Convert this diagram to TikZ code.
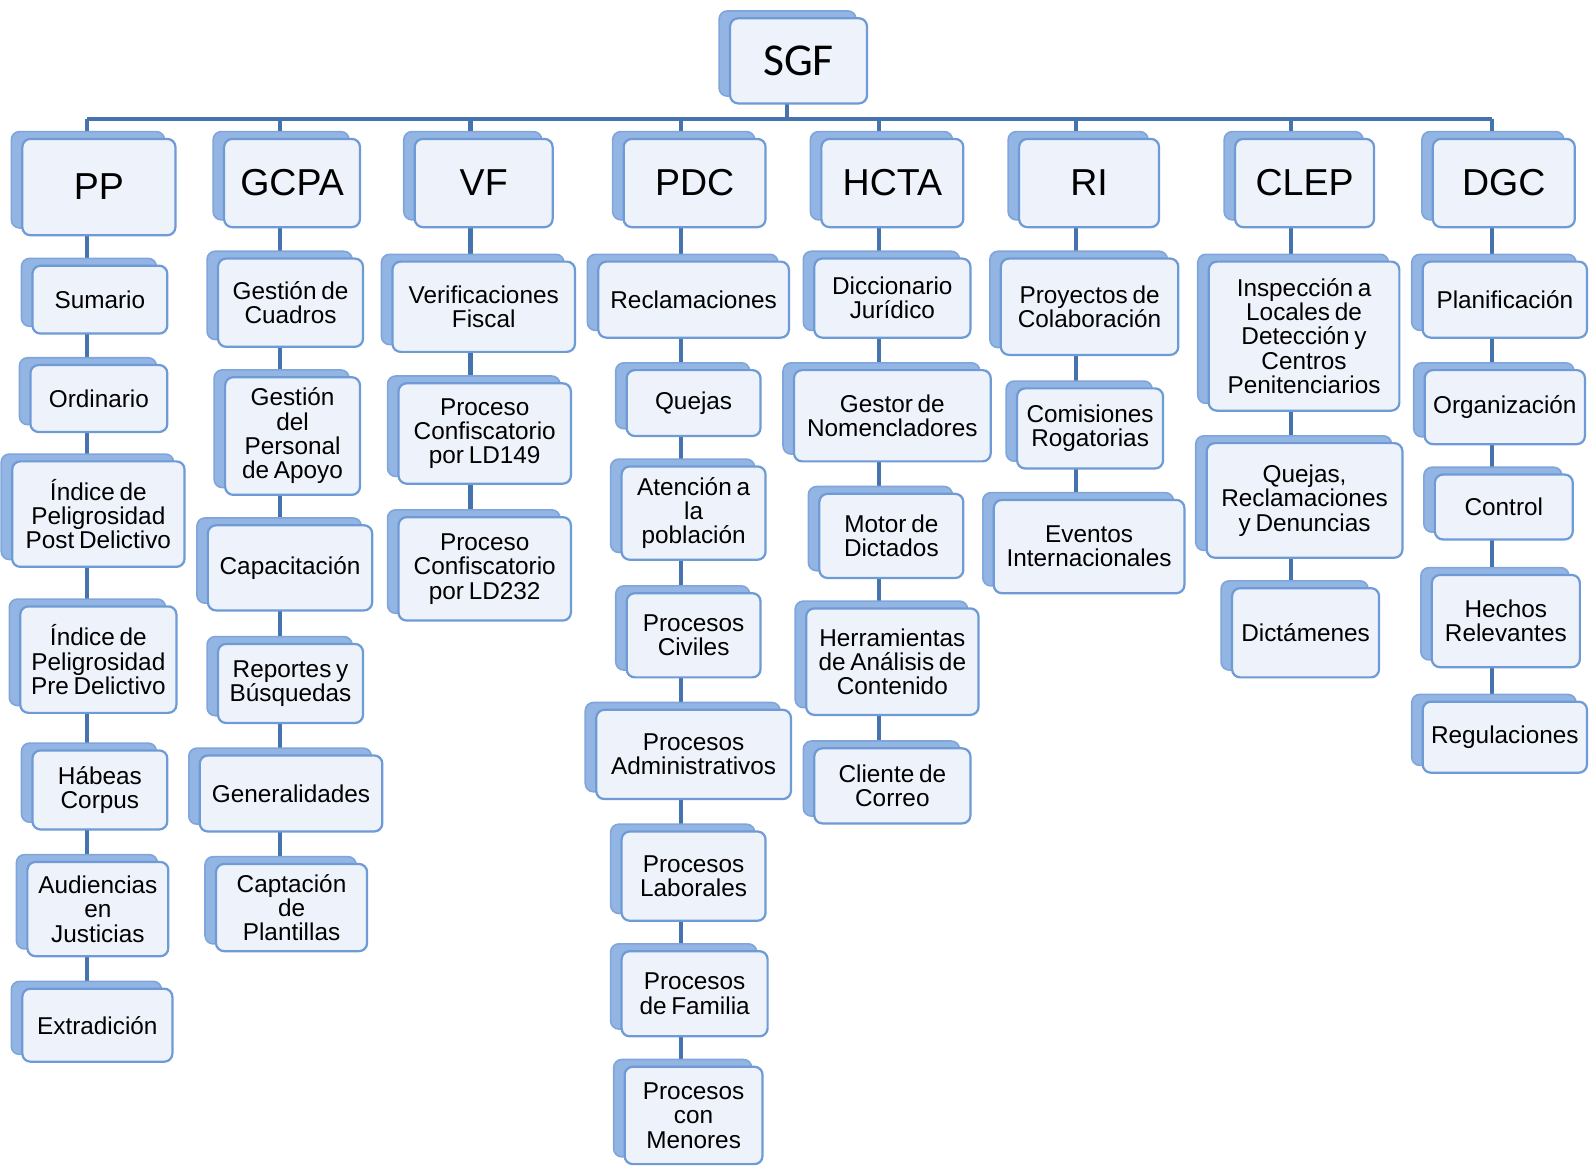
\documentclass[tikz,border=0pt]{standalone}
\usepackage{fontspec}
\setmainfont{Liberation Sans}[WordSpace=0.7]
\newfontfamily\titlefont{Carlito}
\usetikzlibrary{shadows}
\definecolor{boxfill}{HTML}{EEF2FA}
\definecolor{boxedge}{HTML}{6E9BD6}
\definecolor{shadefill}{HTML}{93B5E3}
\definecolor{shadeedge}{HTML}{7FA5DA}
\definecolor{linkblue}{HTML}{4473AE}
\pgfdeclarelayer{background}
\pgfsetlayers{background,main}
\tikzset{
  orgbox/.style={draw=boxedge, line width=1.1pt, fill=boxfill, rounded corners=4pt,
    inner sep=0pt, align=center,
    font=\fontsize{12}{12}\selectfont,
    copy shadow={shadow xshift=-5.4pt, shadow yshift=3.6pt, fill=shadefill, draw=shadeedge, line width=0.8pt}},
  headbox/.style={orgbox, font=\fontsize{18.5}{19}\selectfont},
  topbox/.style={orgbox, font=\titlefont\fontsize{22.5}{23}\selectfont},
  conn/.style={draw=linkblue, line width=2pt},
}
% \obox[style]{name}{x1}{y1}{x2}{y2}{text}: a box spanning the given corners
\newcommand\obox[7][orgbox]{%
  \pgfmathsetmacro\bxc{(#3+#5)/2}%
  \pgfmathsetmacro\byc{(#4+#6)/2}%
  \pgfmathsetmacro\bxw{(#5-#3)*0.5}%
  \pgfmathsetmacro\byh{(#6-#4)*0.5}%
  \node[#1, minimum width=\bxw pt, minimum height=\byh pt] (#2) at (\bxc,\byc) {#7};}
\begin{document}
\begin{tikzpicture}[x=0.5pt,y=-0.5pt]
\useasboundingbox (0,0) rectangle (1568,1149);

% root
\obox[topbox]{sgf}{720}{18}{855}{102}{SGF}

% second level
\obox[headbox]{pp}{22}{137}{173}{232}{PP}
\obox[headbox]{gcpa}{221}{137}{355}{224}{GCPA}
\obox[headbox]{vf}{409}{137}{545}{224}{VF}
\obox[headbox]{pdc}{615}{137}{755}{224}{PDC}
\obox[headbox]{hcta}{810}{137}{950}{224}{HCTA}
\obox[headbox]{ri}{1005}{137}{1143}{224}{RI}
\obox[headbox]{clep}{1218}{137}{1355}{224}{CLEP}
\obox[headbox]{dgc}{1413}{137}{1553}{224}{DGC}

% PP
\obox{pp1}{32}{262}{165}{329}{Sumario}
\obox{pp2}{30}{360}{165}{426}{Ordinario}
\obox{pp3}{12}{455}{182}{559}{Índice de\\Peligrosidad\\Post Delictivo}
\obox{pp4}{20}{598}{174}{703}{Índice de\\Peligrosidad\\Pre Delictivo}
\obox{pp5}{32}{740}{165}{818}{Hábeas\\Corpus}
\obox{pp6}{27}{850}{166}{943}{Audiencias\\en\\Justicias}
\obox{pp7}{22}{975}{170}{1047}{Extradición}

% GCPA
\obox{gc1}{215}{255}{358}{342}{Gestión de\\Cuadros}
\obox{gc2}{222}{372}{355}{488}{Gestión\\del\\Personal\\de Apoyo}
\obox{gc3}{205}{518}{367}{602}{Capacitación}
\obox{gc4}{215}{635}{358}{713}{Reportes y\\Búsquedas}
\obox{gc5}{197}{745}{377}{820}{Generalidades}
\obox{gc6}{213}{852}{362}{938}{Captación\\de\\Plantillas}

% VF
\obox{vf1}{387}{258}{567}{347}{Verificaciones\\Fiscal}
\obox{vf2}{393}{378}{563}{477}{Proceso\\Confiscatorio\\por LD149}
\obox{vf3}{393}{510}{563}{612}{Proceso\\Confiscatorio\\por LD232}

% PDC
\obox{pd1}{590}{258}{778}{333}{Reclamaciones}
\obox{pd2}{618}{365}{750}{430}{Quejas}
\obox{pd3}{613}{460}{755}{552}{Atención a\\la\\población}
\obox{pd4}{618}{585}{750}{668}{Procesos\\Civiles}
\obox{pd5}{588}{700}{780}{788}{Procesos\\Administrativos}
\obox{pd6}{613}{820}{755}{908}{Procesos\\Laborales}
\obox{pd7}{613}{938}{757}{1022}{Procesos\\de Familia}
\obox{pd8}{616}{1052}{752}{1148}{Procesos\\con\\Menores}

% HCTA
\obox{hc1}{803}{255}{957}{333}{Diccionario\\Jurídico}
\obox{hc2}{783}{365}{977}{455}{Gestor de\\Nomencladores}
\obox{hc3}{808}{487}{950}{570}{Motor de\\Dictados}
\obox{hc4}{795}{600}{965}{705}{Herramientas\\de Análisis de\\Contenido}
\obox{hc5}{803}{738}{957}{812}{Cliente de\\Correo}

% RI
\obox{ri1}{987}{255}{1162}{350}{Proyectos de\\Colaboración}
\obox{ri2}{1003}{383}{1147}{462}{Comisiones\\Rogatorias}
\obox{ri3}{980}{493}{1168}{585}{Eventos\\Internacionales}

% CLEP
\obox{cl1}{1192}{258}{1380}{405}{Inspección a\\Locales de\\Detección y\\Centros\\Penitenciarios}
\obox{cl2}{1190}{437}{1383}{550}{Quejas,\\Reclamaciones\\y Denuncias}
\obox{cl3}{1215}{580}{1360}{668}{Dictámenes}

% DGC
\obox{dg1}{1403}{258}{1565}{333}{Planificación}
\obox{dg2}{1405}{365}{1563}{438}{Organización}
\obox{dg3}{1415}{468}{1551}{532}{Control}
\obox{dg4}{1412}{567}{1558}{658}{Hechos\\Relevantes}
\obox{dg5}{1403}{692}{1565}{762}{Regulaciones}

% bus and column drop points
\coordinate (cSGF) at (776,117);
\coordinate (cPP)   at (86,117);
\coordinate (cGCPA) at (276,117);
\coordinate (cVF)   at (464,117);
\coordinate (cPDC)  at (672,117);
\coordinate (cHCTA) at (867,117);
\coordinate (cRI)   at (1061,117);
\coordinate (cCLEP) at (1273,117);
\coordinate (cDGC)  at (1471,117);

\begin{pgfonlayer}{background}
  \draw[conn] (sgf.center -| cSGF) -- (cSGF);
  \draw[conn] (cPP) -- (cDGC);
  \foreach \col/\chain in {
      cPP/{pp,pp1,pp2,pp3,pp4,pp5,pp6,pp7},
      cGCPA/{gcpa,gc1,gc2,gc3,gc4,gc5,gc6},
      cVF/{vf,vf1,vf2,vf3},
      cPDC/{pdc,pd1,pd2,pd3,pd4,pd5,pd6,pd7,pd8},
      cHCTA/{hcta,hc1,hc2,hc3,hc4,hc5},
      cRI/{ri,ri1,ri2,ri3},
      cCLEP/{clep,cl1,cl2,cl3},
      cDGC/{dgc,dg1,dg2,dg3,dg4,dg5}} {
    \xdef\prev{\col}
    \foreach \n in \chain {
      \draw[conn] (\col |- \prev) -- (\n.center -| \col);
      \xdef\prev{\n.center}
    }
  }
\end{pgfonlayer}
\end{tikzpicture}
\end{document}
